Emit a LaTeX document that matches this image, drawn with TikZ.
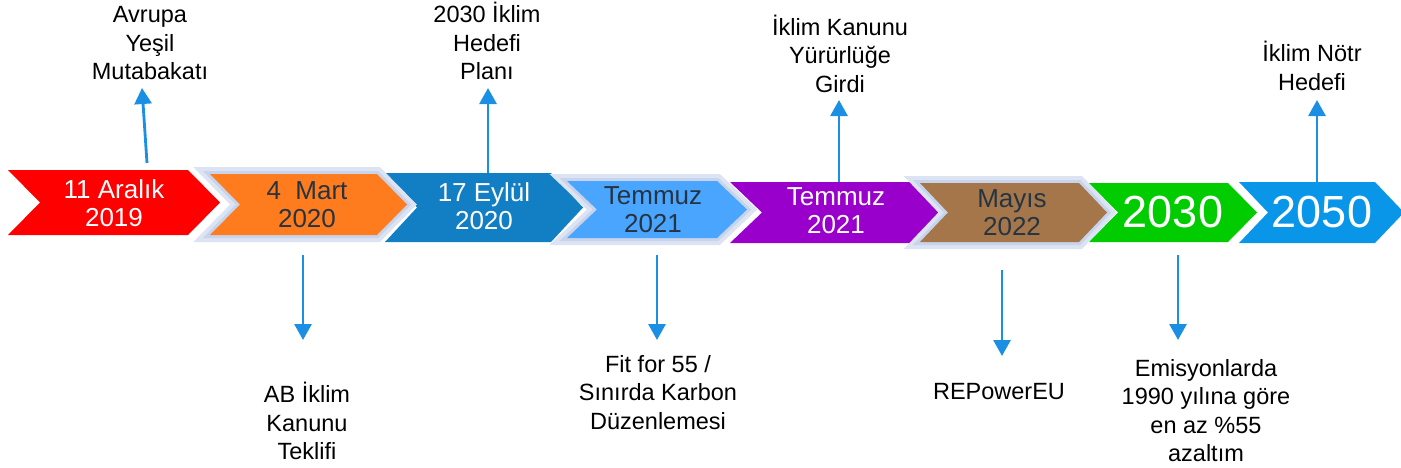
\documentclass[tikz,border=0pt]{standalone}
\usepackage{fontspec}
\setmainfont{Liberation Sans}
\usetikzlibrary{arrows.meta}
\definecolor{cRed}{RGB}{255,0,0}
\definecolor{cOrange}{RGB}{255,124,30}
\definecolor{cBlueA}{RGB}{18,126,195}
\definecolor{cLight}{RGB}{74,165,255}
\definecolor{cPurple}{RGB}{153,0,204}
\definecolor{cBrown}{RGB}{164,118,73}
\definecolor{cGreen}{RGB}{0,204,0}
\definecolor{cBlueB}{RGB}{10,150,232}
\definecolor{cArrow}{RGB}{27,143,227}
\definecolor{cDark}{RGB}{38,52,66}
\definecolor{bordOut}{RGB}{220,227,243}
\definecolor{bordIn}{RGB}{200,211,236}
\newcommand{\chevp}[5]{(#1,#2) -- ({#4-#5},#2) -- (#4,{(#2+#3)/2}) -- ({#4-#5},#3) -- (#1,#3) -- ({#1+#5},{(#2+#3)/2}) -- cycle}
\begin{document}
\begin{tikzpicture}[x=1pt,y=-1pt,
  lab/.style={font=\fontsize{23.5}{28.5}\selectfont, align=center, inner sep=0pt, text=black},
  chtxt/.style={font=\fontsize{26}{28}\selectfont, align=center, inner sep=0pt},
  bigtxt/.style={font=\fontsize{45}{48}\selectfont, inner sep=0pt, text=white},
  arr/.style={draw=cArrow, line width=2.8pt, -{Triangle[width=17pt,length=16pt]}},
  bandout/.style={draw=bordOut, line width=14pt, line join=miter},
  bandin/.style={draw=bordIn, line width=6pt, line join=miter}]
\useasboundingbox (0,0) rectangle (1401,467);
% plain chevrons
\fill[cRed]    \chevp{8}{170}{235}{220}{32};
\fill[cBlueA]  \chevp{385}{173}{242}{583}{32};
\fill[cPurple] \chevp{730}{182}{243}{942}{32};
\fill[cGreen]  \chevp{1089}{183}{242}{1257}{29};
\fill[cBlueB]  \chevp{1239}{182}{243}{1404}{29};
% bordered chevrons
\draw[bandout] \chevp{210}{174}{235}{407}{30};
\draw[bandin]  \chevp{210}{174}{235}{407}{30};
\fill[cOrange] \chevp{210}{174}{235}{407}{30};
\draw[bandout] \chevp{567}{181}{238}{747}{30};
\draw[bandin]  \chevp{567}{181}{238}{747}{30};
\fill[cLight]  \chevp{567}{181}{238}{747}{30};
\draw[bandout] \chevp{920}{183}{242}{1107}{28};
\draw[bandin]  \chevp{920}{183}{242}{1107}{28};
\fill[cBrown]  \chevp{920}{183}{242}{1107}{28};
% chevron texts
\node[chtxt, text=white] (c1) at (114,203) {11 Aralık\\2019};
\node[chtxt, text=cDark] (c2) at (307,204.5) {4~~Mart\\2020};
\node[chtxt, text=white] (c3) at (484,206.5) {17 Eylül\\2020};
\node[chtxt, text=cDark] (c4) at (653,210) {Temmuz\\2021};
\node[chtxt, text=white] (c5) at (836,210.5) {Temmuz\\2021};
\node[chtxt, text=cDark] (c6) at (1012,212.5) {Mayıs\\2022};
\node[bigtxt] (c7) at (1173,212) {2030};
\node[bigtxt] (c8) at (1322,212) {2050};
% labels
\node[lab] (l1) at (150,43.5) {Avrupa\\Yeşil\\Mutabakatı};
\node[lab] (l2) at (307,421) {AB İklim\\Kanunu\\Teklifi};
\node[lab] (l3) at (487,41) {2030 İklim\\Hedefi\\Planı};
\node[lab] (l4) at (658,392.5) {Fit for 55 /\\Sınırda Karbon\\Düzenlemesi};
\node[lab] (l5) at (840,53.5) {İklim Kanunu\\Yürürlüğe\\Girdi};
\node[lab] (l6) at (999,392) {REPowerEU};
\node[lab] (l7) at (1206,410.5) {Emisyonlarda\\1990 yılına göre\\en az \%55\\azaltım};
\node[lab] (l8) at (1312,66) {İklim Nötr\\Hedefi};
% arrow endpoints
\coordinate (s1) at (147,163);  \coordinate (e1) at (142,88);
\coordinate (s2) at (303,255);  \coordinate (e2) at (303,340);
\coordinate (s3) at (488,173);  \coordinate (e3) at (488,88);
\coordinate (s4) at (657,255);  \coordinate (e4) at (657,340);
\coordinate (s5) at (839,182);  \coordinate (e5) at (839,100);
\coordinate (s6) at (1002,270); \coordinate (e6) at (1002,356);
\coordinate (s7) at (1178,255); \coordinate (e7) at (1178,340);
\coordinate (s8) at (1317,182); \coordinate (e8) at (1317,100);
\foreach \i in {1,...,8} { \draw[arr] (s\i) -- (e\i); }
\end{tikzpicture}
\end{document}
